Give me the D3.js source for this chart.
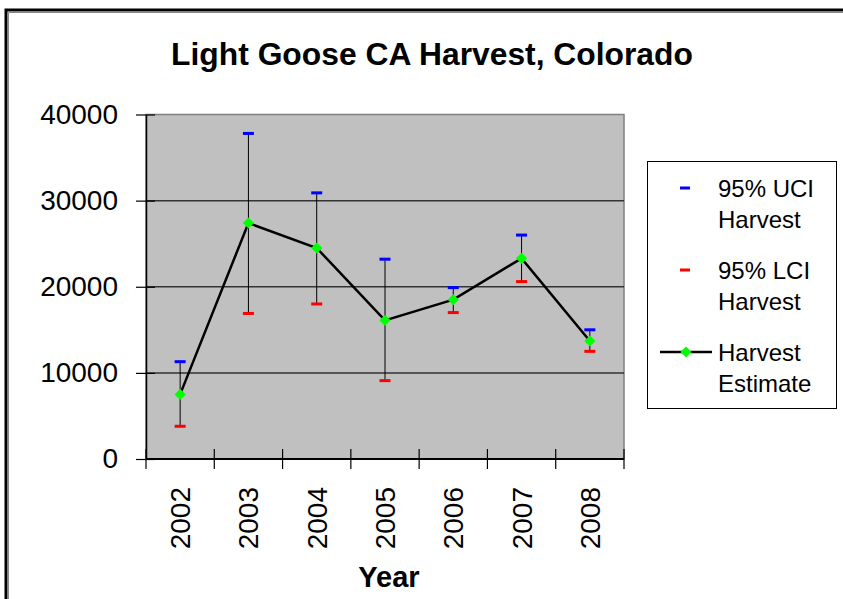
<!DOCTYPE html>
<html>
<head>
<meta charset="utf-8">
<script src="https://cdn.jsdelivr.net/npm/d3@7"></script>
<style>
  body { margin: 0; background: #fff; }
  svg { display: block; font-family: "Liberation Sans", Arial, sans-serif; }
</style>
</head>
<body>
<svg id="chart"></svg>
<script>
const years = ['2002', '2003', '2004', '2005', '2006', '2007', '2008']
const harvest = [7500, 27400, 24500, 16100, 18500, 23300, 13700]
const uci = [11300, 37800, 30900, 23200, 19900, 26000, 15000]
const lci = [3800, 16900, 18000, 9100, 17000, 20600, 12500]
const yTicks = [0, 10000, 20000, 30000, 40000]

const width = 843
const height = 599
const plotLeft = 146
const plotRight = 624
const plotTop = 114.5
const plotBottom = 459

const svg = d3.select('#chart')
              .attr('width', width)
              .attr('height', height)

// outer frame
svg.append('rect')
   .attr('x', 6).attr('y', 10)
   .attr('width', width + 20).attr('height', height + 20)
   .attr('fill', 'none').attr('stroke', '#000').attr('stroke-width', 3)
svg.append('path')
   .attr('d', `M8.5,${height + 5}V12.5H${width + 5}`)
   .attr('fill', 'none').attr('stroke', '#888').attr('stroke-width', 1)

const xScale = d3.scaleBand()
                 .domain(years)
                 .range([plotLeft, plotRight])

const yScale = d3.scaleLinear()
                 .domain([0, 40000])
                 .range([plotBottom, plotTop])

// plot area
svg.append('rect')
   .attr('x', plotLeft).attr('y', plotTop)
   .attr('width', plotRight - plotLeft).attr('height', plotBottom - plotTop)
   .attr('fill', '#c0c0c0').attr('stroke', '#808080').attr('stroke-width', 1.5)

svg.append('g')
   .selectAll('line')
   .data(yTicks.filter(d => d > 0 && d < 40000))
   .join('line')
   .attr('x1', plotLeft).attr('x2', plotRight)
   .attr('y1', d => yScale(d)).attr('y2', d => yScale(d))
   .attr('stroke', '#333').attr('stroke-width', 1.5)

// axes
const yAxis = d3.axisLeft(yScale)
                .tickValues(yTicks)
                .tickSizeInner(10)
                .tickSizeOuter(0)
                .tickPadding(18)
                .tickFormat(d3.format('d'))

const yG = svg.append('g')
              .attr('transform', `translate(${plotLeft}, 0)`)
              .call(yAxis)
yG.select('.domain').attr('stroke', '#000').attr('stroke-width', 1.5)
yG.selectAll('.tick line').attr('x2', -10).attr('x1', 9).attr('stroke-width', 1.2)
yG.selectAll('.tick text')
  .attr('font-size', 28).attr('fill', '#000')
  .attr('font-family', '"Liberation Sans", Arial, sans-serif')

const xG = svg.append('g')
              .attr('transform', `translate(0, ${plotBottom})`)
xG.append('line')
  .attr('x1', plotLeft).attr('x2', plotRight)
  .attr('stroke', '#000').attr('stroke-width', 2)
const bounds = years.map(d => xScale(d)).concat([plotRight])
xG.selectAll('.xtick')
  .data(bounds)
  .join('line')
  .attr('class', 'xtick')
  .attr('x1', d => d).attr('x2', d => d)
  .attr('y1', -10).attr('y2', 10)
  .attr('stroke', '#000').attr('stroke-width', 1.2)
xG.selectAll('.xlabel')
  .data(years)
  .join('text')
  .attr('class', 'xlabel')
  .attr('transform', d => `translate(${xScale(d) + xScale.bandwidth() / 2 + 10}, 28)rotate(-90)`)
  .attr('text-anchor', 'end')
  .attr('font-size', 28)
  .text(d => d)

// error bars
const cx = d => xScale(d) + xScale.bandwidth() / 2
svg.append('g')
   .selectAll('line')
   .data(years)
   .join('line')
   .attr('x1', cx).attr('x2', cx)
   .attr('y1', (d, i) => yScale(uci[i]))
   .attr('y2', (d, i) => yScale(lci[i]))
   .attr('stroke', '#000').attr('stroke-width', 1)

// harvest estimate line
const line = d3.line()
               .x((d, i) => cx(years[i]))
               .y(d => yScale(d))
svg.append('path')
   .datum(harvest)
   .attr('d', line)
   .attr('fill', 'none').attr('stroke', '#000').attr('stroke-width', 2.5)

const diamond = d3.symbol().type(d3.symbolSquare).size(62)
svg.append('g')
   .selectAll('path')
   .data(harvest)
   .join('path')
   .attr('d', diamond)
   .attr('transform', (d, i) => `translate(${cx(years[i])}, ${yScale(d)})rotate(45)`)
   .attr('fill', '#00ff00')

// UCI / LCI dashes
svg.append('g')
   .selectAll('rect')
   .data(uci)
   .join('rect')
   .attr('x', (d, i) => cx(years[i]) - 5.5).attr('y', d => yScale(d) - 1.5)
   .attr('width', 11).attr('height', 3)
   .attr('fill', '#0000ff')
svg.append('g')
   .selectAll('rect')
   .data(lci)
   .join('rect')
   .attr('x', (d, i) => cx(years[i]) - 5.5).attr('y', d => yScale(d) - 1.5)
   .attr('width', 11).attr('height', 3)
   .attr('fill', '#ff0000')

// titles
svg.append('text')
   .text('Light Goose CA Harvest, Colorado')
   .attr('x', 432).attr('y', 65)
   .attr('text-anchor', 'middle')
   .attr('font-size', 31.8).attr('font-weight', 'bold')

svg.append('text')
   .text('Year')
   .attr('x', 389).attr('y', 587)
   .attr('text-anchor', 'middle')
   .attr('font-size', 29).attr('font-weight', 'bold')

// legend
const legend = svg.append('g')
legend.append('rect')
      .attr('x', 647.5).attr('y', 161.5)
      .attr('width', 189).attr('height', 247)
      .attr('fill', '#fff').attr('stroke', '#000').attr('stroke-width', 1)

const legendItems = [
  { lines: ['95% UCI', 'Harvest'], y: 197, color: '#0000ff' },
  { lines: ['95% LCI', 'Harvest'], y: 279, color: '#ff0000' },
  { lines: ['Harvest', 'Estimate'], y: 361, color: null }
]
legendItems.forEach(item => {
  const t = legend.append('text')
                  .attr('x', 718).attr('y', item.y)
                  .attr('font-size', 24)
  item.lines.forEach((l, j) => {
    t.append('tspan').attr('x', 718).attr('dy', j === 0 ? 0 : 30.5).text(l)
  })
  const my = item.y - 9
  if (item.color) {
    legend.append('rect')
          .attr('x', 680).attr('y', my - 1.5)
          .attr('width', 10).attr('height', 3)
          .attr('fill', item.color)
  } else {
    legend.append('line')
          .attr('x1', 660).attr('x2', 712)
          .attr('y1', my).attr('y2', my)
          .attr('stroke', '#000').attr('stroke-width', 2.5)
    legend.append('path')
          .attr('d', diamond)
          .attr('transform', `translate(686, ${my})rotate(45)`)
          .attr('fill', '#00ff00')
  }
})
</script>
</body>
</html>
